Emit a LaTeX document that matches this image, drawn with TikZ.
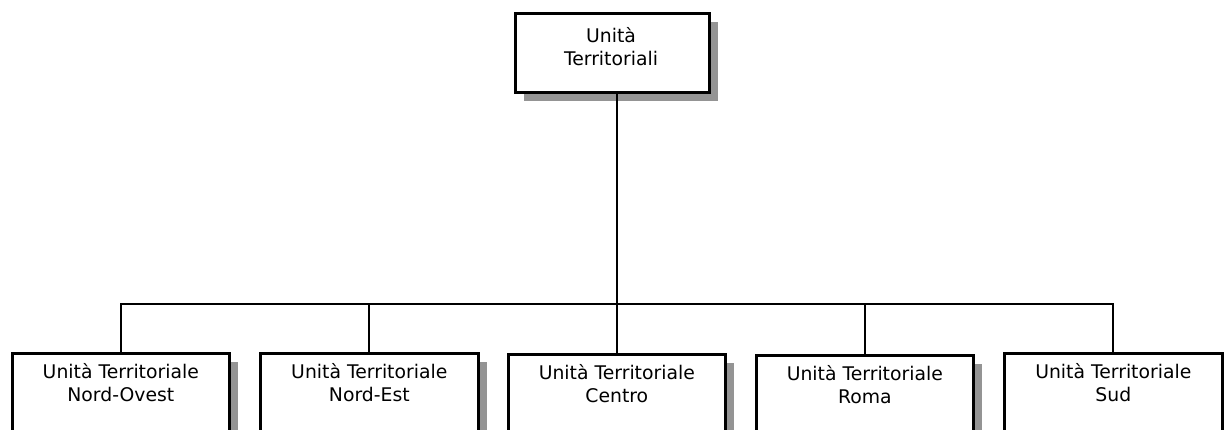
\documentclass[tikz,border=0pt]{standalone}
\usepackage{fontspec}
\setmainfont{DejaVu Sans}
\usetikzlibrary{shadows}
\begin{document}
\begin{tikzpicture}[x=1pt,y=-1pt,
  box/.style={draw=black, line width=2.6pt, fill=white, rectangle, inner sep=0pt,
    anchor=north west,
    drop shadow={shadow xshift=8.5pt, shadow yshift=-8.5pt, fill=black!42, opacity=1}},
  lbl/.style={align=center, inner sep=0pt, font=\fontsize{18.8}{23}\selectfont},
  conn/.style={draw=black, line width=1.8pt}]
\useasboundingbox (0,0) rectangle (1224,430);
\clip (0,0) rectangle (1224,430);
\node[box, minimum width=194pt, minimum height=79pt] (top) at (514,12) {};
\node[lbl] (ttop) at (611,46.5) {Unità\\Territoriali};
\node[box, minimum width=217pt, minimum height=110pt] (b1) at (11,352) {};
\node[box, minimum width=218pt, minimum height=110pt] (b2) at (259,352) {};
\node[box, minimum width=217pt, minimum height=110pt] (b3) at (507,353) {};
\node[box, minimum width=217pt, minimum height=110pt] (b4) at (755,354) {};
\node[box, minimum width=218pt, minimum height=110pt] (b5) at (1003,352) {};
\node[lbl] (t1) at ([yshift=-31pt]b1.north) {Unità Territoriale\\Nord-Ovest};
\node[lbl] (t2) at ([yshift=-31pt]b2.north) {Unità Territoriale\\Nord-Est};
\node[lbl] (t3) at ([yshift=-31pt]b3.north) {Unità Territoriale\\Centro};
\node[lbl] (t4) at ([yshift=-31pt]b4.north) {Unità Territoriale\\Roma};
\node[lbl] (t5) at ([yshift=-31pt]b5.north) {Unità Territoriale\\Sud};
\coordinate (bus) at (616,304);
\draw[conn] (top.south -| b3.north) -- (b3.north);
\draw[conn] (b1.north) -- (b1.north |- bus) -| (b5.north);
\draw[conn] (b2.north |- bus) -- (b2.north);
\draw[conn] (b4.north |- bus) -- (b4.north);
\end{tikzpicture}
\end{document}
